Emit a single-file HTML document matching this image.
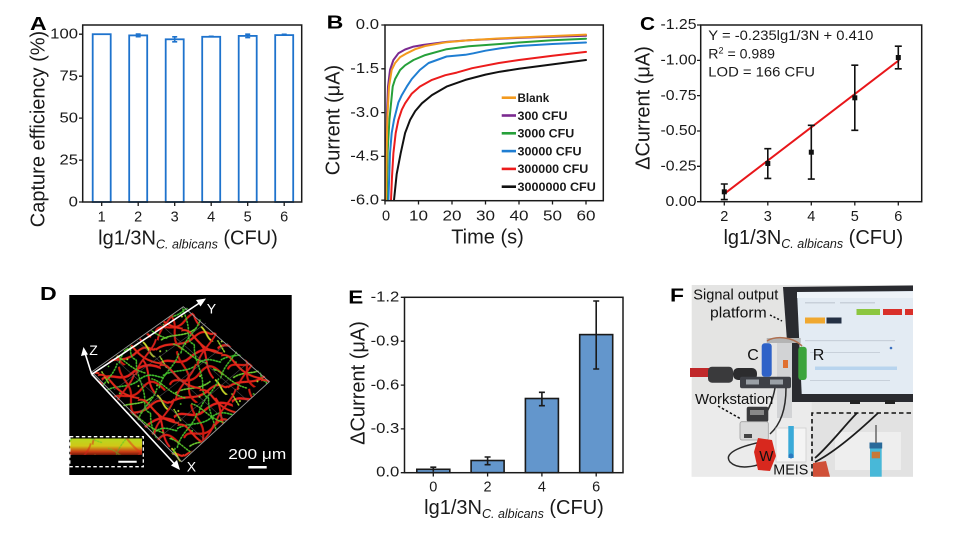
<!DOCTYPE html>
<html><head><meta charset="utf-8">
<style>
html,body{margin:0;padding:0;background:#fff;}
svg{display:block;font-family:"Liberation Sans",Arial,sans-serif;}
</style></head>
<body>
<svg width="955" height="537" viewBox="0 0 955 537" xmlns="http://www.w3.org/2000/svg">
<defs>
<pattern id="p1" width="60" height="55" patternUnits="userSpaceOnUse" patternTransform="rotate(-15)">
<g fill="none" stroke-linecap="round">
<path d="M0 8 C10 2 18 16 30 10 S50 4 60 12" stroke="#e3201b" stroke-width="2.4"/>
<path d="M5 30 C12 22 22 38 35 28 S52 24 58 34" stroke="#d81c12" stroke-width="2.2"/>
<path d="M0 48 C15 42 25 54 40 46 S55 50 60 47" stroke="#e4261a" stroke-width="2.2"/>
<path d="M20 0 C18 12 28 20 24 32 S20 48 26 55" stroke="#cf1a10" stroke-width="2.1"/>
<path d="M45 0 C50 10 42 22 48 35" stroke="#e3201b" stroke-width="2"/>
<path d="M0 20 C12 16 24 24 36 18 S54 20 60 22" stroke="#3fc22c" stroke-width="1.6" stroke-dasharray="1.3 1.7"/>
<path d="M8 40 C20 36 30 44 44 38" stroke="#6ed030" stroke-width="1.6" stroke-dasharray="1.5 1.5"/>
<path d="M38 0 C34 14 40 26 36 40 S40 50 38 55" stroke="#44c02a" stroke-width="1.5" stroke-dasharray="1.4 1.8"/>
<path d="M2 0 L6 14" stroke="#9ad82a" stroke-width="1.5" stroke-dasharray="1.4 1.6"/>
<path d="M50 38 C54 44 52 50 57 55" stroke="#c8d828" stroke-width="1.8"/>
</g>
<circle cx="14" cy="26" r="1" fill="#60d030"/><circle cx="52" cy="28" r="1" fill="#60d030"/>
<circle cx="30" cy="50" r="1" fill="#a0e030"/><circle cx="10" cy="52" r="0.9" fill="#50c828"/>
</pattern>
<pattern id="p2" width="47" height="41" patternUnits="userSpaceOnUse" patternTransform="rotate(32)">
<g fill="none" stroke-linecap="round">
<path d="M0 20 C10 10 20 30 47 18" stroke="#e42a1a" stroke-width="2"/>
<path d="M10 0 C14 15 6 25 12 41" stroke="#46c02a" stroke-width="1.5" stroke-dasharray="1.4 1.8"/>
<path d="M30 0 C34 12 26 28 32 41" stroke="#d8201a" stroke-width="1.9"/>
<path d="M0 36 C12 32 22 40 40 34" stroke="#58c82a" stroke-width="1.4" stroke-dasharray="1.3 1.6"/>
</g>
<circle cx="40" cy="8" r="1" fill="#b0e030"/>
</pattern>
<linearGradient id="band" x1="0" y1="0" x2="0" y2="1">
<stop offset="0" stop-color="#b8d820"/>
<stop offset="0.45" stop-color="#d0c818"/>
<stop offset="0.8" stop-color="#c83a14"/>
<stop offset="1" stop-color="#701808"/>
</linearGradient>
</defs>

<!-- ================= PANEL A ================= -->
<text x="30" y="30" font-size="18" font-weight="bold" textLength="16.7" lengthAdjust="spacingAndGlyphs">A</text>
<g stroke="#1e73cd" stroke-width="1.8" fill="#fff">
<rect x="92.7" y="34.2" width="18" height="167.8"/>
<rect x="129.2" y="35.4" width="18" height="166.6"/>
<rect x="165.7" y="39.3" width="18" height="162.7"/>
<rect x="202.2" y="36.8" width="18" height="165.2"/>
<rect x="238.7" y="35.9" width="18" height="166.1"/>
<rect x="275.2" y="35.1" width="18" height="166.9"/>
</g>
<g stroke="#1e73cd" stroke-width="1.6" fill="none">
<path d="M138.2 34.1V36.7M135.7 34.1H140.7M135.7 36.7H140.7"/>
<path d="M174.7 36.8V41.8M172.2 36.8H177.2M172.2 41.8H177.2"/>
<path d="M211.2 36.3V37.3M208.7 36.3H213.7"/>
<path d="M247.7 34.2V37.6M245.2 34.2H250.2M245.2 37.6H250.2"/>
<path d="M284.2 34.3V35.9M281.7 34.3H286.7"/>
</g>
<rect x="82.7" y="25" width="219" height="177" fill="none" stroke="#1a1a1a" stroke-width="1.5"/>
<g stroke="#1a1a1a" stroke-width="1.3">
<path d="M79 34.2H82.7M79 76.2H82.7M79 118.1H82.7M79 160.1H82.7M79 202H82.7"/>
<path d="M101.7 202V206M138.2 202V206M174.7 202V206M211.2 202V206M247.7 202V206M284.2 202V206"/>
</g>
<g font-size="14.5" text-anchor="end" fill="#1a1a1a">
<text x="78" y="38.6" textLength="27.8" lengthAdjust="spacingAndGlyphs">100</text>
<text x="78" y="80.6" textLength="18.5" lengthAdjust="spacingAndGlyphs">75</text>
<text x="78" y="122.5" textLength="18.5" lengthAdjust="spacingAndGlyphs">50</text>
<text x="78" y="164.5" textLength="18.5" lengthAdjust="spacingAndGlyphs">25</text>
<text x="78" y="206.4" textLength="9.3" lengthAdjust="spacingAndGlyphs">0</text>
</g>
<g font-size="14.5" text-anchor="middle" fill="#1a1a1a">
<text x="101.7" y="221.5">1</text><text x="138.2" y="221.5">2</text><text x="174.7" y="221.5">3</text>
<text x="211.2" y="221.5">4</text><text x="247.7" y="221.5">5</text><text x="284.2" y="221.5">6</text>
</g>
<text x="188" y="244.5" font-size="20" text-anchor="middle" fill="#1a1a1a">lg1/3N<tspan font-size="12.5" font-style="italic" dy="4">C. albicans</tspan><tspan dy="-4"> (CFU)</tspan></text>
<text transform="translate(44.5,129) rotate(-90)" font-size="20" text-anchor="middle" fill="#1a1a1a">Capture efficiency (%)</text>

<!-- ================= PANEL B ================= -->
<text x="326.7" y="28.3" font-size="18" font-weight="bold" textLength="16.7" lengthAdjust="spacingAndGlyphs">B</text>
<g fill="none" stroke-width="2" stroke-linejoin="round" stroke-linecap="round">
<polyline stroke="#111" points="394.0,200.2 396.7,173.9 400.7,153.2 405.1,133.0 410.1,119.9 415.2,111.1 421.9,103.3 431.9,95.1 446.6,86.6 465.4,79.9 485.5,74.6 499.9,71.7 519.0,68.8 552.5,64.4 586.0,60.0"/>
<polyline stroke="#ec1c1c" points="391.0,200.2 392.0,176.8 393.4,153.2 395.7,133.0 398.4,119.9 401.8,109.7 405.1,103.3 411.8,93.6 419.8,86.6 431.9,79.9 445.3,75.2 456.7,72.6 472.1,68.2 498.9,63.0 519.0,60.0 552.5,55.7 586.0,51.9"/>
<polyline stroke="#1f7ed2" points="388.4,200.2 390.0,153.2 391.7,133.0 394.0,119.9 398.4,102.4 401.8,95.1 406.8,86.6 411.8,79.0 419.8,70.0 428.6,63.0 446.6,56.5 458.7,55.4 465.4,54.8 473.4,53.3 485.5,50.7 499.9,48.4 519.0,46.0 552.5,44.0 586.0,42.5"/>
<polyline stroke="#26a03a" points="386.7,200.2 387.7,150.6 389.4,119.9 392.7,86.6 395.1,79.0 400.1,70.0 405.1,65.3 413.5,60.0 425.2,55.1 446.6,49.2 468.8,46.3 499.9,44.0 519.0,42.5 552.5,40.2 586.0,38.7"/>
<polyline stroke="#7b2a90" points="385.7,200.2 386.3,150.6 387.0,112.6 388.0,86.6 390.0,70.0 393.4,60.0 398.4,53.3 405.1,49.5 413.5,46.6 423.5,44.9 446.6,41.9 468.8,40.2 499.9,38.7 535.8,37.3 586.0,35.8"/>
<polyline stroke="#f39a1e" points="386.0,200.2 386.7,150.6 387.3,119.9 389.0,86.6 391.7,70.0 395.1,63.0 400.1,57.1 406.8,53.3 415.2,49.2 425.2,46.0 446.6,42.2 468.8,40.2 499.9,38.4 535.8,36.7 586.0,34.6"/>
</g>
<rect x="385" y="25" width="218.3" height="175.7" fill="none" stroke="#1a1a1a" stroke-width="1.5"/>
<g stroke="#1a1a1a" stroke-width="1.3">
<path d="M381.3 25H385M381.3 68.8H385M381.3 112.6H385M381.3 156.4H385M381.3 200.2H385"/>
<path d="M385 200.7V204.5M418.5 200.7V204.5M452 200.7V204.5M485.5 200.7V204.5M519 200.7V204.5M552.5 200.7V204.5M586 200.7V204.5"/>
</g>
<g font-size="14.5" text-anchor="end" fill="#1a1a1a">
<text x="379" y="29.2" textLength="23.2" lengthAdjust="spacingAndGlyphs">0.0</text>
<text x="379" y="73" textLength="28.7" lengthAdjust="spacingAndGlyphs">-1.5</text>
<text x="379" y="116.8" textLength="28.7" lengthAdjust="spacingAndGlyphs">-3.0</text>
<text x="379" y="160.6" textLength="28.7" lengthAdjust="spacingAndGlyphs">-4.5</text>
<text x="379" y="204.4" textLength="28.7" lengthAdjust="spacingAndGlyphs">-6.0</text>
</g>
<g font-size="14.5" text-anchor="middle" fill="#1a1a1a">
<text x="386" y="220.5">0</text>
<text x="418.5" y="220.5" textLength="19" lengthAdjust="spacingAndGlyphs">10</text>
<text x="452" y="220.5" textLength="19" lengthAdjust="spacingAndGlyphs">20</text>
<text x="485.5" y="220.5" textLength="19" lengthAdjust="spacingAndGlyphs">30</text>
<text x="519" y="220.5" textLength="19" lengthAdjust="spacingAndGlyphs">40</text>
<text x="552.5" y="220.5" textLength="19" lengthAdjust="spacingAndGlyphs">50</text>
<text x="586" y="220.5" textLength="19" lengthAdjust="spacingAndGlyphs">60</text>
</g>
<text x="487.5" y="243.5" font-size="20" text-anchor="middle" fill="#1a1a1a">Time (s)</text>
<text transform="translate(339.5,120) rotate(-90)" font-size="20" text-anchor="middle" fill="#1a1a1a">Current (μA)</text>
<!-- legend -->
<g stroke-width="2.6">
<line x1="501.7" y1="97.7" x2="516" y2="97.7" stroke="#f39a1e"/>
<line x1="501.7" y1="115.5" x2="516" y2="115.5" stroke="#7b2a90"/>
<line x1="501.7" y1="133.3" x2="516" y2="133.3" stroke="#26a03a"/>
<line x1="501.7" y1="151.1" x2="516" y2="151.1" stroke="#1f7ed2"/>
<line x1="501.7" y1="168.9" x2="516" y2="168.9" stroke="#ec1c1c"/>
<line x1="501.7" y1="186.7" x2="516" y2="186.7" stroke="#111"/>
</g>
<g font-size="12" font-weight="bold" fill="#1a1a1a">
<text x="517.5" y="102" textLength="31.7" lengthAdjust="spacingAndGlyphs">Blank</text>
<text x="517.5" y="119.8" textLength="50" lengthAdjust="spacingAndGlyphs">300 CFU</text>
<text x="517.5" y="137.6" textLength="56.7" lengthAdjust="spacingAndGlyphs">3000 CFU</text>
<text x="517.5" y="155.4" textLength="64" lengthAdjust="spacingAndGlyphs">30000 CFU</text>
<text x="517.5" y="173.2" textLength="70.7" lengthAdjust="spacingAndGlyphs">300000 CFU</text>
<text x="517.5" y="191" textLength="78.3" lengthAdjust="spacingAndGlyphs">3000000 CFU</text>
</g>

<!-- ================= PANEL C ================= -->
<text x="640" y="30" font-size="18" font-weight="bold" textLength="15" lengthAdjust="spacingAndGlyphs">C</text>
<line x1="725" y1="193.3" x2="899.3" y2="60" stroke="#e8161a" stroke-width="2"/>
<g stroke="#111" stroke-width="1.6">
<path d="M724.3 184V199.6M720.8 184H727.8M720.8 199.6H727.8"/>
<path d="M767.8 148.7V178.4M764.3 148.7H771.3M764.3 178.4H771.3"/>
<path d="M811.3 125.3V179.1M807.8 125.3H814.8M807.8 179.1H814.8"/>
<path d="M854.8 65.2V130.3M851.3 65.2H858.3M851.3 130.3H858.3"/>
<path d="M898.3 46.2V68.8M894.8 46.2H901.8M894.8 68.8H901.8"/>
</g>
<g fill="#111">
<rect x="721.8" y="189.3" width="5" height="5"/>
<rect x="765.3" y="161" width="5" height="5"/>
<rect x="808.8" y="149.7" width="5" height="5"/>
<rect x="852.3" y="95.3" width="5" height="5"/>
<rect x="895.8" y="55" width="5" height="5"/>
</g>
<rect x="700.7" y="25" width="221" height="176.7" fill="none" stroke="#1a1a1a" stroke-width="1.5"/>
<g stroke="#1a1a1a" stroke-width="1.3">
<path d="M697 25H700.7M697 60.35H700.7M697 95.65H700.7M697 131H700.7M697 166.3H700.7M697 201.7H700.7"/>
<path d="M724.3 201.7V205.5M767.8 201.7V205.5M811.3 201.7V205.5M854.8 201.7V205.5M898.3 201.7V205.5"/>
</g>
<g font-size="14.5" text-anchor="end" fill="#1a1a1a">
<text x="696.5" y="29.2" textLength="36" lengthAdjust="spacingAndGlyphs">-1.25</text>
<text x="696.5" y="64.5" textLength="36" lengthAdjust="spacingAndGlyphs">-1.00</text>
<text x="696.5" y="99.8" textLength="36" lengthAdjust="spacingAndGlyphs">-0.75</text>
<text x="696.5" y="135.2" textLength="36" lengthAdjust="spacingAndGlyphs">-0.50</text>
<text x="696.5" y="170.5" textLength="36" lengthAdjust="spacingAndGlyphs">-0.25</text>
<text x="696.5" y="205.9" textLength="31" lengthAdjust="spacingAndGlyphs">0.00</text>
</g>
<g font-size="14.5" text-anchor="middle" fill="#1a1a1a">
<text x="724.3" y="221">2</text><text x="767.8" y="221">3</text><text x="811.3" y="221">4</text>
<text x="854.8" y="221">5</text><text x="898.3" y="221">6</text>
</g>
<g font-size="14" fill="#1a1a1a">
<text x="708.3" y="40" textLength="165" lengthAdjust="spacingAndGlyphs">Y = -0.235lg1/3N + 0.410</text>
<text x="708.3" y="58.3" textLength="66.7" lengthAdjust="spacingAndGlyphs">R<tspan font-size="9" dy="-5">2</tspan><tspan dy="5"> = 0.989</tspan></text>
<text x="708.3" y="76.7" textLength="106.7" lengthAdjust="spacingAndGlyphs">LOD = 166 CFU</text>
</g>
<text x="813.3" y="244" font-size="20" text-anchor="middle" fill="#1a1a1a">lg1/3N<tspan font-size="12.5" font-style="italic" dy="4">C. albicans</tspan><tspan dy="-4"> (CFU)</tspan></text>
<text transform="translate(649.5,108) rotate(-90)" font-size="20" text-anchor="middle" fill="#1a1a1a">ΔCurrent (μA)</text>

<!-- ================= PANEL D ================= -->
<text x="40" y="300" font-size="18" font-weight="bold" textLength="16.7" lengthAdjust="spacingAndGlyphs">D</text>
<rect x="69.3" y="295" width="222.4" height="180" fill="#000"/>
<polygon points="91.7,374 185,306 270,381 180,462" fill="url(#p1)"/>
<polygon points="91.7,374 185,306 270,381 180,462" fill="url(#p2)"/>
<g stroke="#666" stroke-width="0.6" fill="none" opacity="0.7">
<path d="M114 358 L204 439M137 341 L226 421M160 324 L248 401"/>
<path d="M114 390 L206 323M137 414 L228 343M159 438 L249 362"/>
</g>
<polygon points="91.7,372 183.3,306.7 269.3,381.7 181.7,461.7" fill="none" stroke="#999" stroke-width="0.9"/>
<g stroke="#fff" stroke-width="1.6" fill="#fff">
<line x1="91.7" y1="374.3" x2="201" y2="302"/>
<polygon points="206,298.5 196,300 200.5,306.5" stroke="none"/>
<line x1="91.7" y1="374.3" x2="176" y2="465.5"/>
<polygon points="180,470 171,465.5 177,460" stroke="none"/>
<line x1="91.7" y1="374.3" x2="85" y2="353"/>
<polygon points="83.5,347 81,356 88,354.5" stroke="none"/>
</g>
<g fill="#fff" font-size="14">
<text x="206.7" y="313.3">Y</text>
<text x="89.3" y="355">Z</text>
<text x="186.7" y="471.7">X</text>
<text x="228.3" y="459" font-size="15" textLength="58" lengthAdjust="spacingAndGlyphs">200 μm</text>
</g>
<line x1="248.3" y1="467.2" x2="266.7" y2="467.2" stroke="#fff" stroke-width="2.5"/>
<rect x="70" y="438.5" width="72" height="16.5" fill="url(#band)"/>
<rect x="70" y="438.5" width="72" height="16.5" fill="url(#p2)" opacity="0.5"/>
<rect x="69.8" y="436.7" width="73.5" height="30" fill="none" stroke="#fff" stroke-width="1.3" stroke-dasharray="3.5 2.5"/>
<line x1="118.3" y1="461.7" x2="136.7" y2="461.7" stroke="#fff" stroke-width="2"/>

<!-- ================= PANEL E ================= -->
<text x="348.3" y="303.3" font-size="18" font-weight="bold" textLength="15" lengthAdjust="spacingAndGlyphs">E</text>
<g fill="#6396cc" stroke="#1a1a1a" stroke-width="1.6">
<rect x="416.8" y="469.3" width="33" height="3.4"/>
<rect x="471.1" y="460.5" width="33" height="12.2"/>
<rect x="525.4" y="398.5" width="33" height="74.2"/>
<rect x="579.7" y="334.6" width="33" height="138.1"/>
</g>
<g stroke="#1a1a1a" stroke-width="1.6">
<path d="M433.3 467.2V471.7M430.3 467.2H436.3"/>
<path d="M487.6 457V464.7M484.6 457H490.6M484.6 464.7H490.6"/>
<path d="M541.9 392.3V405.7M538.9 392.3H544.9M538.9 405.7H544.9"/>
<path d="M596.2 301V369M593.2 301H599.2M593.2 369H599.2"/>
</g>
<rect x="404.5" y="297.3" width="218.5" height="175.4" fill="none" stroke="#1a1a1a" stroke-width="1.5"/>
<g stroke="#1a1a1a" stroke-width="1.3">
<path d="M400.8 297.3H404.5M400.8 341.2H404.5M400.8 385.1H404.5M400.8 428.9H404.5M400.8 472.7H404.5"/>
<path d="M433.3 472.7V476.5M487.6 472.7V476.5M541.9 472.7V476.5M596.2 472.7V476.5"/>
</g>
<g font-size="14.5" text-anchor="end" fill="#1a1a1a">
<text x="399.3" y="301.5" textLength="28.7" lengthAdjust="spacingAndGlyphs">-1.2</text>
<text x="399.3" y="345.4" textLength="28.7" lengthAdjust="spacingAndGlyphs">-0.9</text>
<text x="399.3" y="389.3" textLength="28.7" lengthAdjust="spacingAndGlyphs">-0.6</text>
<text x="399.3" y="433.1" textLength="28.7" lengthAdjust="spacingAndGlyphs">-0.3</text>
<text x="399.3" y="476.5" textLength="23.2" lengthAdjust="spacingAndGlyphs">0.0</text>
</g>
<g font-size="14.5" text-anchor="middle" fill="#1a1a1a">
<text x="433.3" y="491.7">0</text><text x="487.6" y="491.7">2</text><text x="541.9" y="491.7">4</text><text x="596.2" y="491.7">6</text>
</g>
<text x="514" y="514" font-size="20" text-anchor="middle" fill="#1a1a1a">lg1/3N<tspan font-size="12.5" font-style="italic" dy="4">C. albicans</tspan><tspan dy="-4"> (CFU)</tspan></text>
<text transform="translate(364.5,383) rotate(-90)" font-size="20" text-anchor="middle" fill="#1a1a1a">ΔCurrent (μA)</text>

<!-- ================= PANEL F ================= -->
<text x="670" y="301.7" font-size="18" font-weight="bold" textLength="14" lengthAdjust="spacingAndGlyphs">F</text>
<rect x="691.7" y="285" width="221.3" height="191.7" fill="#e4e4e3"/>
<rect x="691.7" y="400" width="120" height="76.7" fill="#ebebeb"/>
<!-- tablet -->
<polygon points="783,287 913,285.5 913,402 791.5,402" fill="#2a2b30"/>
<polygon points="797,292 913,291 913,394 801.7,394" fill="#e3ebf3"/>
<rect x="797" y="292" width="116" height="6" fill="#eef3f8"/>
<g fill="#c8d0da">
<rect x="805" y="302" width="30" height="1.5"/><rect x="840" y="302" width="35" height="1.5"/>
<rect x="805" y="340" width="90" height="1.2"/><rect x="810" y="352" width="70" height="1"/>
<rect x="810" y="380" width="80" height="1"/>
</g>
<rect x="856.5" y="309" width="23.5" height="6" fill="#8cc63f"/>
<rect x="883" y="309" width="19" height="6" fill="#d9302a"/>
<rect x="905" y="309" width="8" height="6" fill="#d9302a"/>
<rect x="805" y="317.5" width="20" height="6" fill="#f0a830"/>
<rect x="826.5" y="317.5" width="15" height="6" fill="#243044"/>
<rect x="815" y="366.5" width="82" height="3.5" fill="#b8d4ee"/>
<circle cx="891" cy="348" r="1.3" fill="#3a70c0"/>
<rect x="850" y="400" width="10" height="4" fill="#222"/><rect x="885" y="400" width="10" height="4" fill="#222"/>
<!-- holder -->
<rect x="777" y="338" width="15" height="80" fill="#d2d3d5"/>
<rect x="766.7" y="338" width="34" height="5" fill="#b4b4b4"/>
<path d="M767 341 C775 336 792 336 802 346" stroke="#b07050" stroke-width="1.5" fill="none"/>
<rect x="783" y="360" width="5" height="8" fill="#e07030"/>
<!-- cables & connectors -->
<path d="M690 372.5 H709" stroke="#c0282a" stroke-width="9"/>
<rect x="708" y="366.7" width="25" height="16" rx="4" fill="#3a3a3c"/>
<rect x="733" y="368" width="24" height="12" rx="5" fill="#2c2c2e"/>
<rect x="740" y="376.7" width="51" height="11.6" rx="2" fill="#3e4046"/>
<rect x="746" y="379.5" width="13" height="5" fill="#9aa0a6"/>
<rect x="770" y="379.5" width="13" height="5" fill="#9aa0a6"/>
<rect x="761.7" y="343.3" width="10" height="33.4" rx="3" fill="#2f62c8"/>
<rect x="798.3" y="346.7" width="8.4" height="33.3" rx="3" fill="#3ca43c"/>
<g stroke="#2a2a2a" stroke-width="1.5" fill="none">
<path d="M786 388 C786 410 780 425 770 434"/>
<path d="M775 388 C772 405 765 415 760 425"/>
<path d="M766 441 C745 445 722 452 730 462 C738 470 755 467 765 462"/>
</g>
<!-- workstation -->
<rect x="746.7" y="406.7" width="21.6" height="15" rx="2" fill="#3a3a3c"/>
<rect x="750" y="410" width="14" height="5" fill="#888"/>
<rect x="740" y="421.7" width="28.3" height="18.3" rx="2" fill="#dadada" stroke="#a0a0a0" stroke-width="0.8"/>
<rect x="744" y="434" width="8" height="4" fill="#444"/>
<!-- MEIS -->
<rect x="776" y="428" width="30" height="34" fill="#f4f4f4" stroke="#cfcfcf" stroke-width="0.8"/>
<rect x="788.3" y="426" width="5.5" height="32" fill="#3aaad8"/>
<circle cx="791" cy="456" r="2.5" fill="#2a7ac0"/>
<path d="M758 438 L772 440 L776 456 L770 471 L758 470 L754 452 Z" fill="#d8281e"/>
<!-- dashed inset -->
<rect x="812" y="413" width="101" height="63.7" fill="#e2e2e2"/>
<rect x="835" y="432" width="66" height="38" fill="#eeeeee"/>
<path d="M815 458 C830 445 845 425 857 413" stroke="#1c1c1c" stroke-width="1.8" fill="none"/>
<path d="M815 462 C835 452 860 430 878 413" stroke="#1c1c1c" stroke-width="1.8" fill="none"/>
<rect x="870" y="447" width="11.7" height="29.7" fill="#48b8d8"/>
<rect x="869.5" y="442.5" width="12.7" height="6" fill="#2a6a9a"/>
<rect x="871.7" y="451.7" width="8.3" height="6.6" fill="#c87838"/>
<line x1="876" y1="425" x2="876" y2="443" stroke="#666" stroke-width="1.5"/>
<path d="M813 463 L826 461 L830 476.7 L813 476.7 Z" fill="#d05038"/>
<path d="M812 476 V413 H913" fill="none" stroke="#111" stroke-width="1.6" stroke-dasharray="4.5 3"/>
<!-- leaders -->
<path d="M770 315 L782 321" stroke="#111" stroke-width="1.5" stroke-dasharray="2 2"/>
<path d="M718 406 L741 419" stroke="#111" stroke-width="1.5" stroke-dasharray="2.5 2"/>
<!-- labels -->
<g fill="#111" font-size="15">
<text x="693.3" y="299.5" textLength="85" lengthAdjust="spacingAndGlyphs">Signal output</text>
<text x="710" y="317.5" textLength="56.7" lengthAdjust="spacingAndGlyphs">platform</text>
<text x="747.3" y="360" font-size="16">C</text>
<text x="812.7" y="360" font-size="16">R</text>
<text x="695" y="404" textLength="78.3" lengthAdjust="spacingAndGlyphs">Workstation</text>
<text x="759.3" y="461" font-size="15">W</text>
<text x="773.3" y="474.3" textLength="35" lengthAdjust="spacingAndGlyphs">MEIS</text>
</g>
</svg>
</body></html>
